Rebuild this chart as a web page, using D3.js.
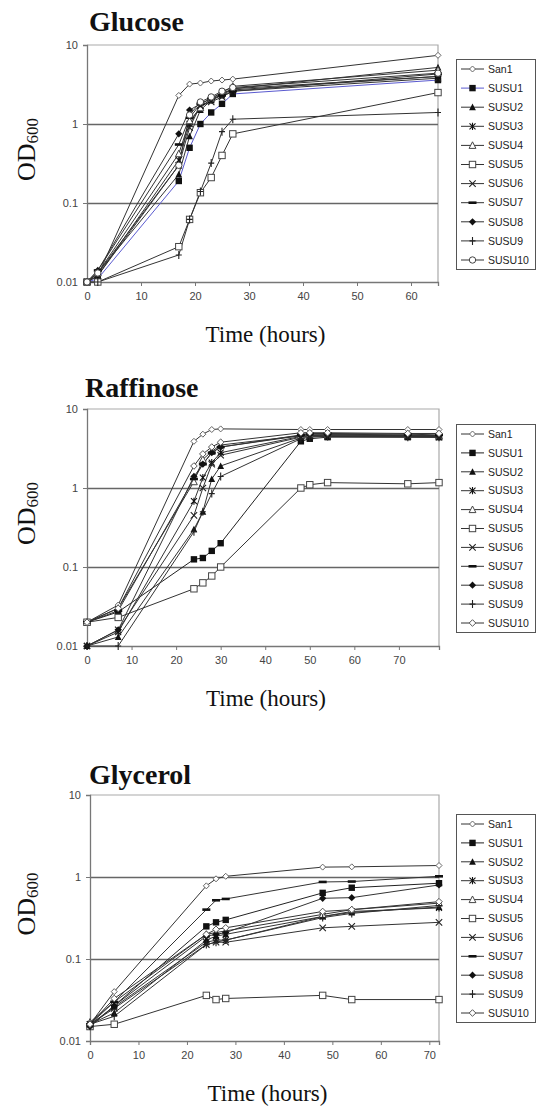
<html>
<head>
<script src="https://d3js.org/d3.v7.min.js"></script>
<style>
  body { margin: 0; background: #fff; }
  svg text { font-family: "Liberation Sans", Arial, sans-serif; }
  .serif { font-family: "Liberation Serif", "Times New Roman", serif !important; }
</style>
</head>
<body>
<svg id="chart" width="537" height="1109"></svg>
<script>
// ---- data ----
const strains = ['San1', 'SUSU1', 'SUSU2', 'SUSU3', 'SUSU4', 'SUSU5', 'SUSU6', 'SUSU7', 'SUSU8', 'SUSU9', 'SUSU10'];

const glucoseTime = [0, 2, 17, 19, 21, 23, 25, 27, 65];
const glucoseOD = [
  [0.010, 0.012, 2.3, 3.2, 3.3, 3.5, 3.6, 3.7, 7.4],
  [0.010, 0.011, 0.19, 0.50, 1.0, 1.4, 1.8, 2.4, 3.6],
  [0.010, 0.013, 0.23, 0.70, 1.5, 2.0, 2.3, 2.8, 5.2],
  [0.010, 0.012, 0.35, 1.0, 1.7, 2.0, 2.4, 2.8, 4.0],
  [0.010, 0.013, 0.42, 1.1, 1.6, 2.1, 2.5, 3.0, 4.8],
  [0.010, 0.010, 0.028, 0.062, 0.135, 0.21, 0.40, 0.75, 2.5],
  [0.010, 0.012, 0.30, 0.90, 1.7, 1.9, 2.2, 2.6, 3.8],
  [0.010, 0.014, 0.55, 1.2, 1.8, 2.1, 2.3, 2.6, 4.3],
  [0.010, 0.014, 0.75, 1.5, 1.8, 2.1, 2.5, 2.7, 4.0],
  [0.010, 0.010, 0.022, 0.062, 0.14, 0.32, 0.80, 1.15, 1.4],
  [0.010, 0.013, 0.30, 1.3, 1.9, 2.2, 2.6, 2.9, 4.4]
];

const raffinoseTime = [0, 7, 24, 26, 28, 30, 48, 50, 54, 72, 79];
const raffinoseOD = [
  [0.020, 0.033, 3.9, 4.8, 5.5, 5.6, 5.5, 5.5, 5.5, 5.5, 5.5],
  [0.020, 0.027, 0.125, 0.13, 0.16, 0.20, 3.9, 4.2, 4.4, 4.4, 4.4],
  [0.010, 0.013, 0.30, 0.50, 1.3, 1.9, 4.3, 4.6, 4.7, 4.6, 4.5],
  [0.010, 0.015, 0.68, 1.35, 2.1, 2.8, 4.5, 4.6, 4.6, 4.5, 4.5],
  [0.020, 0.030, 1.2, 2.3, 2.9, 3.5, 4.6, 4.8, 4.8, 4.7, 4.6],
  [0.020, 0.023, 0.053, 0.063, 0.077, 0.10, 1.0, 1.1, 1.17, 1.13, 1.17],
  [0.010, 0.016, 0.45, 1.0, 2.0, 2.6, 4.4, 4.5, 4.5, 4.5, 4.4],
  [0.020, 0.028, 1.3, 2.0, 2.8, 3.3, 4.7, 4.9, 4.9, 4.8, 4.7],
  [0.010, 0.016, 1.4, 2.0, 2.8, 3.3, 4.6, 4.7, 4.7, 4.6, 4.6],
  [0.010, 0.010, 0.28, 0.50, 0.85, 1.4, 4.2, 4.4, 4.5, 4.4, 4.4],
  [0.020, 0.030, 1.9, 2.7, 3.3, 3.8, 5.0, 5.0, 5.0, 4.9, 4.9]
];

const glycerolTime = [0, 5, 24, 26, 28, 48, 54, 72];
const glycerolOD = [
  [0.016, 0.040, 0.78, 0.95, 1.02, 1.32, 1.33, 1.38],
  [0.015, 0.027, 0.25, 0.28, 0.30, 0.64, 0.74, 0.84],
  [0.016, 0.022, 0.17, 0.19, 0.20, 0.33, 0.37, 0.43],
  [0.016, 0.026, 0.16, 0.17, 0.17, 0.33, 0.38, 0.42],
  [0.017, 0.030, 0.20, 0.21, 0.22, 0.35, 0.40, 0.48],
  [0.015, 0.016, 0.036, 0.032, 0.033, 0.036, 0.032, 0.032],
  [0.016, 0.025, 0.15, 0.16, 0.16, 0.24, 0.25, 0.28],
  [0.016, 0.030, 0.40, 0.52, 0.54, 0.87, 0.88, 1.02],
  [0.015, 0.027, 0.19, 0.20, 0.21, 0.55, 0.56, 0.80],
  [0.016, 0.020, 0.15, 0.16, 0.17, 0.32, 0.36, 0.45],
  [0.016, 0.033, 0.20, 0.23, 0.24, 0.38, 0.40, 0.50]
];

const yTicks = [0.01, 0.1, 1, 10];
const yTickLabels = ['0.01', '0.1', '1', '10'];
const glucoseXTicks = [0, 10, 20, 30, 40, 50, 60];
const raffinoseXTicks = [0, 10, 20, 30, 40, 50, 60, 70];
const glycerolXTicks = [0, 10, 20, 30, 40, 50, 60, 70];

// ---- layout ----
const svg = d3.select('svg#chart');

const panels = [
  {title: 'Glucose', time: glucoseTime, od: glucoseOD, xTicks: glucoseXTicks, xMax: 65,
   left: 87, right: 438, top: 45, bottom: 282, titleY: 31, titleX: 89,
   legTop: 59, legBottom: 269, susu1Color: '#5a5acf', lastMarker: 'circle'},
  {title: 'Raffinose', time: raffinoseTime, od: raffinoseOD, xTicks: raffinoseXTicks, xMax: 79,
   left: 87, right: 439, top: 409, bottom: 646, titleY: 397, titleX: 85,
   legTop: 424, legBottom: 632, susu1Color: '#222', lastMarker: 'openDiamond'},
  {title: 'Glycerol', time: glycerolTime, od: glycerolOD, xTicks: glycerolXTicks, xMax: 72,
   left: 90, right: 439, top: 795, bottom: 1041, titleY: 784, titleX: 89,
   legTop: 814, legBottom: 1022, susu1Color: '#222', lastMarker: 'openDiamond'}
];

const markerTypes = ['smallDiamond', 'square', 'triangle', 'asterisk', 'openTriangle',
                     'openSquare', 'cross', 'dash', 'diamond', 'plus', null];

function drawMarker(g, type, x, y) {
  const m = g.append('g').attr('transform', `translate(${x},${y})`);
  switch (type) {
    case 'smallDiamond':
      m.append('path').attr('d', 'M0,-3L3,0L0,3L-3,0Z').attr('fill', '#fff').attr('stroke', '#666').attr('stroke-width', 1);
      break;
    case 'openDiamond':
      m.append('path').attr('d', 'M0,-3.3L3.3,0L0,3.3L-3.3,0Z').attr('fill', '#fff').attr('stroke', '#555').attr('stroke-width', 1);
      break;
    case 'square':
      m.append('rect').attr('x', -3.2).attr('y', -3.2).attr('width', 6.4).attr('height', 6.4).attr('fill', '#111');
      break;
    case 'triangle':
      m.append('path').attr('d', 'M0,-3.6L3.4,3L-3.4,3Z').attr('fill', '#111');
      break;
    case 'asterisk':
      m.append('path').attr('d', 'M-3,-3L3,3M-3,3L3,-3M0,-3.6V3.6').attr('stroke', '#111').attr('stroke-width', 1.1);
      break;
    case 'openTriangle':
      m.append('path').attr('d', 'M0,-3.6L3.4,3L-3.4,3Z').attr('fill', '#fff').attr('stroke', '#444').attr('stroke-width', 1);
      break;
    case 'openSquare':
      m.append('rect').attr('x', -3.2).attr('y', -3.2).attr('width', 6.4).attr('height', 6.4).attr('fill', '#fff').attr('stroke', '#444').attr('stroke-width', 1);
      break;
    case 'cross':
      m.append('path').attr('d', 'M-3.2,-3.2L3.2,3.2M-3.2,3.2L3.2,-3.2').attr('stroke', '#222').attr('stroke-width', 1.1);
      break;
    case 'dash':
      m.append('rect').attr('x', -4).attr('y', -1.3).attr('width', 8).attr('height', 2.6).attr('fill', '#111');
      break;
    case 'diamond':
      m.append('path').attr('d', 'M0,-3.6L3.6,0L0,3.6L-3.6,0Z').attr('fill', '#111');
      break;
    case 'plus':
      m.append('path').attr('d', 'M0,-4V4M-3,0H3').attr('stroke', '#222').attr('stroke-width', 1.1);
      break;
    case 'circle':
      m.append('circle').attr('r', 3.2).attr('fill', '#fff').attr('stroke', '#444').attr('stroke-width', 1);
      break;
  }
}

panels.forEach(p => {
  const g = svg.append('g');
  const xScale = d3.scaleLinear().domain([0, p.xMax]).range([p.left, p.right]);
  const yScale = d3.scaleLog().domain([0.01, 10]).range([p.bottom, p.top]);

  // title
  g.append('text').attr('class', 'serif')
    .attr('x', p.titleX).attr('y', p.titleY)
    .attr('font-size', 28).attr('font-weight', 'bold').attr('fill', '#111')
    .text(p.title);

  // plot frame (top + right)
  g.append('path')
    .attr('d', `M${p.left},${p.top}H${p.right}V${p.bottom}`)
    .attr('fill', 'none').attr('stroke', '#aaa').attr('stroke-width', 1.2);

  // horizontal gridlines
  const grid = d3.axisLeft(yScale).tickValues([0.1, 1]).tickSize(-(p.right - p.left)).tickFormat('');
  g.append('g').attr('class', 'gridlines')
    .attr('transform', `translate(${p.left},0)`)
    .call(grid)
    .call(s => s.select('.domain').remove())
    .call(s => s.selectAll('line').attr('stroke', '#666').attr('stroke-width', 1.3));

  // y axis
  const leftAxis = d3.axisLeft(yScale).tickValues(yTicks)
    .tickFormat((d, i) => yTickLabels[i]).tickSize(4).tickPadding(5);
  g.append('g').attr('class', 'y axis')
    .attr('transform', `translate(${p.left},0)`)
    .call(leftAxis)
    .call(s => s.select('.domain').attr('stroke', '#777').attr('stroke-width', 1.3))
    .call(s => s.selectAll('line').attr('stroke', '#777'))
    .call(s => s.selectAll('text').attr('font-size', 11).attr('fill', '#444')
      .attr('font-family', '"Liberation Sans", Arial, sans-serif'));

  // x axis
  const bottomAxis = d3.axisBottom(xScale).tickValues(p.xTicks).tickSize(4).tickPadding(6);
  g.append('g').attr('class', 'x axis')
    .attr('transform', `translate(0,${p.bottom})`)
    .call(bottomAxis)
    .call(s => s.select('.domain').attr('stroke', '#777').attr('stroke-width', 1.3))
    .call(s => s.selectAll('line').attr('stroke', '#777'))
    .call(s => s.selectAll('text').attr('font-size', 11).attr('fill', '#444')
      .attr('font-family', '"Liberation Sans", Arial, sans-serif'));

  // axis titles
  g.append('text').attr('class', 'serif')
    .attr('x', (p.left + p.right) / 2 + 3).attr('y', p.bottom + 60)
    .attr('text-anchor', 'middle').attr('font-size', 23).attr('fill', '#111')
    .text('Time (hours)');

  const yl = g.append('text').attr('class', 'serif')
    .attr('transform', `translate(35,${(p.top + p.bottom) / 2 - 14}) rotate(-90)`)
    .attr('text-anchor', 'middle').attr('fill', '#111').attr('font-size', 26);
  yl.append('tspan').text('OD');
  yl.append('tspan').attr('font-size', 17).attr('dy', 3).text('600');

  // series
  const line = d3.line().x(d => xScale(d[0])).y(d => yScale(d[1]));
  p.od.forEach((vals, i) => {
    const pts = p.time.map((t, j) => [t, vals[j]]);
    g.append('path').datum(pts)
      .attr('d', line)
      .attr('fill', 'none')
      .attr('stroke', i === 1 ? p.susu1Color : '#333')
      .attr('stroke-width', 1);
  });
  p.od.forEach((vals, i) => {
    const type = markerTypes[i] || p.lastMarker;
    p.time.forEach((t, j) => drawMarker(g, type, xScale(t), yScale(vals[j])));
  });

  // legend
  g.append('rect')
    .attr('x', 456.5).attr('y', p.legTop + 0.5)
    .attr('width', 79).attr('height', p.legBottom - p.legTop)
    .attr('fill', '#fff').attr('stroke', '#555').attr('stroke-width', 1);
  const step = (p.legBottom - p.legTop - 19) / 10;
  strains.forEach((name, i) => {
    const ly = p.legTop + 10 + step * i;
    g.append('line').attr('x1', 461).attr('x2', 484).attr('y1', ly).attr('y2', ly)
      .attr('stroke', i === 1 ? p.susu1Color : '#333').attr('stroke-width', 1);
    drawMarker(g, markerTypes[i] || p.lastMarker, 472.5, ly);
    g.append('text').attr('x', 488).attr('y', ly).attr('dy', '0.36em')
      .attr('font-size', 10.5).attr('fill', '#222').text(name);
  });
});
</script>
</body>
</html>
